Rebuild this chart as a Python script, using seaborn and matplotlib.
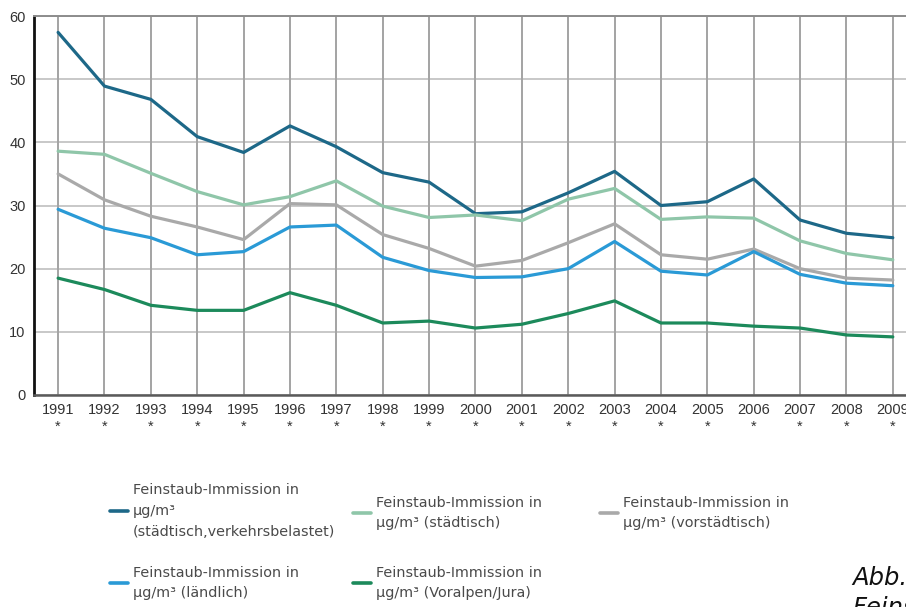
import numpy as np
import pandas as pd
import seaborn as sns
import matplotlib
matplotlib.use("Agg")
import matplotlib.pyplot as plt
from matplotlib.lines import Line2D

# PM10 annual means (µg/m³) by site type
years = list(range(1991, 2010))
staedtisch_verkehr = [57.4, 48.9, 46.8, 40.9, 38.4, 42.6, 39.3, 35.2, 33.7, 28.7,
                      29.0, 32.0, 35.4, 30.0, 30.6, 34.2, 27.7, 25.6, 24.9]
staedtisch = [38.6, 38.1, 35.1, 32.2, 30.1, 31.4, 33.9, 29.9, 28.1, 28.5,
              27.6, 31.0, 32.7, 27.8, 28.2, 28.0, 24.4, 22.4, 21.4]
vorstaedtisch = [35.0, 30.9, 28.3, 26.6, 24.6, 30.3, 30.1, 25.4, 23.2, 20.4,
                 21.3, 24.1, 27.1, 22.2, 21.5, 23.1, 20.0, 18.5, 18.2]
laendlich = [29.4, 26.4, 24.9, 22.2, 22.7, 26.6, 26.9, 21.8, 19.7, 18.6,
             18.7, 20.0, 24.3, 19.6, 19.0, 22.7, 19.1, 17.7, 17.3]
voralpen_jura = [18.5, 16.7, 14.2, 13.4, 13.4, 16.2, 14.2, 11.4, 11.7, 10.6,
                 11.2, 12.9, 14.9, 11.4, 11.4, 10.9, 10.6, 9.5, 9.2]

series_labels = [
    "Feinstaub-Immission in\nµg/m³\n(städtisch,verkehrsbelastet)",
    "Feinstaub-Immission in\nµg/m³ (städtisch)",
    "Feinstaub-Immission in\nµg/m³ (vorstädtisch)",
    "Feinstaub-Immission in\nµg/m³ (ländlich)",
    "Feinstaub-Immission in\nµg/m³ (Voralpen/Jura)",
]
series_values = [staedtisch_verkehr, staedtisch, vorstaedtisch, laendlich, voralpen_jura]
series_colors = ["#1d6888", "#8fc6a9", "#a9a9a9", "#2a9ad6", "#1c8a5b"]
y_ticks = [0, 10, 20, 30, 40, 50, 60]

df = pd.DataFrame({
    "Jahr": np.tile(years, len(series_labels)),
    "Wert": np.concatenate(series_values),
    "Reihe": np.repeat(series_labels, len(years)),
})
palette = dict(zip(series_labels, series_colors))

sns.set_style("white")
plt.rcParams["font.family"] = ["Liberation Sans", "DejaVu Sans"]

W, H = 906, 607
fig = plt.figure(figsize=(W / 100, H / 100), dpi=100)
fig.patch.set_facecolor("white")

# plot area: left edge at x=34px, top at y=16px, bottom at y=395px; runs past right edge
ax_left, ax_top, ax_bottom, ax_right = 34, 16, 395, 916
ax = fig.add_axes([ax_left / W, 1 - ax_bottom / H,
                   (ax_right - ax_left) / W, (ax_bottom - ax_top) / H])

# grid
ax.set_axisbelow(True)
for yv in y_ticks:
    ax.axhline(yv, color="#c4c4c4", lw=1.3, zorder=0)
for xv in years:
    ax.axvline(xv, color="#a3a3a3", lw=1.4, zorder=0)

sns.lineplot(data=df, x="Jahr", y="Wert", hue="Reihe", palette=palette,
             hue_order=series_labels, linewidth=2.3, legend=False, ax=ax,
             zorder=3)

ax.set_xlim(1990.48, 2009.5)
ax.set_ylim(0, 60)
ax.set_xticks(years)
ax.set_xticklabels([f"{y}\n*" for y in years], linespacing=1.25)
ax.set_yticks(y_ticks)
ax.tick_params(axis="both", length=0, labelsize=10.5, labelcolor="#333333")
ax.tick_params(axis="x", pad=6)
ax.tick_params(axis="y", pad=6)
ax.set_xlabel("")
ax.set_ylabel("")

ax.spines["right"].set_visible(False)
ax.spines["top"].set_color("#8c8c8c")
ax.spines["top"].set_linewidth(1.4)
ax.spines["left"].set_color("#111111")
ax.spines["left"].set_linewidth(2.0)
ax.spines["bottom"].set_color("#5a5a5a")
ax.spines["bottom"].set_linewidth(1.8)

# legend: one entry per block, two rows of three columns
legend_pos = [(110, 511), (353, 513), (600, 513), (110, 583), (353, 583)]
for lbl, col, (px, py) in zip(series_labels, series_colors, legend_pos):
    h = Line2D([], [], color=col, lw=2.6)
    leg = fig.legend(handles=[h], labels=[lbl], loc="center left",
                     bbox_to_anchor=(px / W, 1 - py / H),
                     frameon=False, borderpad=0, borderaxespad=0,
                     handlelength=1.25, handletextpad=0.33,
                     prop={"family": "DejaVu Sans", "size": 10.4})
    for t in leg.get_texts():
        t.set_color("#4a4a4a")
        t.set_linespacing(1.6)

# caption running off the right and bottom edges
fig.text(852 / W, 1 - 566 / H, "Abb.\nFeinstaub", ha="left", va="top",
         fontsize=17.5, style="italic", family="DejaVu Sans", color="#111111",
         linespacing=1.3)

fig.savefig("out.png", dpi=100, facecolor="white")
